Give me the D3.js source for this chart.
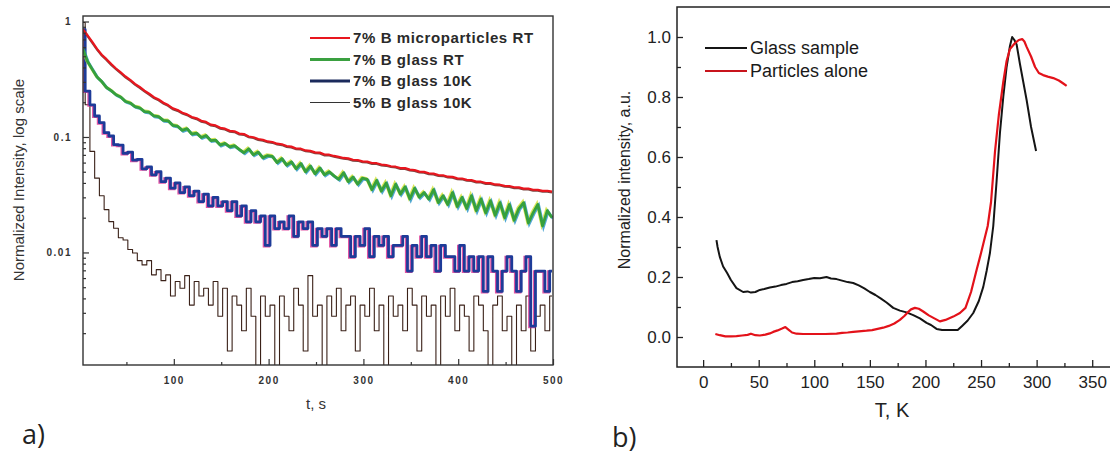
<!DOCTYPE html>
<html>
<head>
<meta charset="utf-8">
<script src="https://cdnjs.cloudflare.com/ajax/libs/d3/7.8.5/d3.min.js"></script>
<style>
  body { margin: 0; background: #fff; }
  svg text { font-family: "Liberation Sans", Arial, sans-serif; }
</style>
</head>
<body>
<div id="chart"></div>
<script>
// ---------- panel a) : decay curves, t grid every 5 s ----------
const decayTimes = d3.range(4, 500, 5);   // 4, 9, ..., 499 s

const microRT = [
  0.86, 0.76, 0.665, 0.58, 0.515, 0.472, 0.428, 0.392, 0.362, 0.334,
  0.312, 0.288, 0.271, 0.252, 0.237, 0.221, 0.211, 0.198, 0.189, 0.177,
  0.171, 0.162, 0.157, 0.149, 0.145, 0.138, 0.135, 0.128, 0.126, 0.120,
  0.118, 0.113, 0.112, 0.107, 0.106, 0.101, 0.0995, 0.096, 0.0945, 0.0915,
  0.0905, 0.0875, 0.0865, 0.0835, 0.0825, 0.0795, 0.0792, 0.0765, 0.0758, 0.0735,
  0.0732, 0.0705, 0.0702, 0.0685, 0.0672, 0.0658, 0.0652, 0.0635, 0.0632, 0.0615,
  0.0612, 0.0595, 0.0593, 0.0577, 0.0572, 0.0558, 0.0553, 0.0538, 0.0537, 0.0522,
  0.0517, 0.0501, 0.0499, 0.0485, 0.0482, 0.0468, 0.0466, 0.0453, 0.0452, 0.0438,
  0.0437, 0.0425, 0.0423, 0.0411, 0.0410, 0.0399, 0.0398, 0.0388, 0.0386, 0.0377,
  0.0376, 0.0367, 0.0366, 0.0357, 0.0357, 0.0349, 0.0348, 0.0341, 0.0342, 0.0336
];

const glassRT = [
  0.58, 0.45, 0.385, 0.33, 0.302, 0.268, 0.252, 0.232, 0.222, 0.203,
  0.197, 0.183, 0.179, 0.166, 0.164, 0.152, 0.150, 0.139, 0.138, 0.126,
  0.124, 0.114, 0.118, 0.106, 0.108, 0.099, 0.103, 0.093, 0.094, 0.085,
  0.088, 0.082, 0.084, 0.078, 0.073, 0.079, 0.070, 0.074, 0.066, 0.069,
  0.068, 0.060, 0.065, 0.057, 0.061, 0.053, 0.059, 0.050, 0.056, 0.048,
  0.054, 0.047, 0.050, 0.046, 0.043, 0.049, 0.041, 0.045, 0.039, 0.044,
  0.043, 0.035, 0.042, 0.034, 0.040, 0.031, 0.039, 0.032, 0.037, 0.029,
  0.036, 0.030, 0.033, 0.029, 0.035, 0.027, 0.031, 0.026, 0.033, 0.025,
  0.030, 0.024, 0.031, 0.023, 0.029, 0.022, 0.028, 0.021, 0.027, 0.020,
  0.026, 0.019, 0.024, 0.027, 0.018, 0.022, 0.026, 0.017, 0.023, 0.020
];

const glass10K = [
  0.85, 0.25, 0.19, 0.152, 0.133, 0.109, 0.102, 0.086, 0.085, 0.072,
  0.074, 0.063, 0.064, 0.053, 0.055, 0.047, 0.050, 0.041, 0.044, 0.036,
  0.040, 0.033, 0.037, 0.031, 0.034, 0.0276, 0.032, 0.0253, 0.030, 0.0253,
  0.0276, 0.023, 0.0276, 0.0207, 0.0253, 0.0184, 0.023, 0.0184, 0.0207, 0.0115,
  0.0207, 0.0161, 0.0184, 0.0161, 0.0207, 0.0138, 0.0184, 0.0161, 0.0184, 0.0115,
  0.0161, 0.0138, 0.0161, 0.0115, 0.0161, 0.0138, 0.0138, 0.0092, 0.0138, 0.0115,
  0.0161, 0.0092, 0.0138, 0.0115, 0.0138, 0.0092, 0.0115, 0.0115, 0.0138, 0.0069,
  0.0115, 0.0092, 0.0138, 0.0092, 0.0115, 0.0069, 0.0115, 0.0092, 0.0092, 0.0069,
  0.0115, 0.0069, 0.0092, 0.0069, 0.0092, 0.0046, 0.0092, 0.0069, 0.0046, 0.0069,
  0.0092, 0.0069, 0.0046, 0.0069, 0.0092, 0.0023, 0.0069, 0.0069, 0.0046, 0.0069
];

const glass5pct10K = [
  0.98, 0.19, 0.075, 0.044, 0.031, 0.0235, 0.0185, 0.0162, 0.0134, 0.0128,
  0.0106, 0.0099, 0.0085, 0.0078, 0.0085, 0.0064, 0.0071, 0.0057, 0.0064, 0.0042,
  0.0056, 0.0049, 0.0063, 0.0035, 0.0056, 0.0042, 0.0049, 0.0035, 0.0056, 0.0028,
  0.0049, 0.0014, 0.0042, 0.0035, 0.0021, 0.0049, 0.0028, 0.0007, 0.0042, 0.0028,
  0.0035, 0, 0.0042, 0.0028, 0.0021, 0.0049, 0.0035, 0.0014, 0.0063, 0.0028,
  0.0035, 0.0007, 0.0042, 0.0028, 0.0049, 0.0021, 0.0035, 0.0042, 0.0014, 0.0035,
  0.0028, 0.0049, 0.0021, 0.0035, 0, 0.0042, 0.0028, 0.0035, 0.0021, 0.0049,
  0.0035, 0.0014, 0.0042, 0.0028, 0.0035, 0.0007, 0.0042, 0.0028, 0.0049, 0.0021,
  0.0035, 0.0028, 0.0014, 0.0042, 0.0035, 0.0021, 0, 0.0035, 0.0042, 0.0021,
  0.0028, 0.0007, 0.0035, 0.0021, 0.0042, 0.0014, 0.0028, 0.0035, 0.0021, 0.0042
];

const decayLabels = ['7% B microparticles RT', '7% B glass RT', '7% B glass 10K', '5% B glass 10K'];
const decayYTicks = [1, 0.1, 0.01];
const decayXTicks = [100, 200, 300, 400, 500];
const decayXMinor = [50, 150, 250, 350, 450];

// ---------- panel b) : intensity vs temperature ----------
const tempGlass = [12, 13, 15, 18, 21.6, 25, 30, 36, 40, 43, 47, 51, 55, 60, 65, 70, 75, 80, 85, 90,
  95, 100, 105, 111, 115, 120, 125, 130, 135, 140, 145, 150, 155, 160, 165, 171, 177, 183, 189, 195,
  201, 205, 210, 215, 220, 229, 233, 238, 243, 248, 252, 255, 258, 261, 264, 267, 270, 273, 276, 278,
  280, 282, 285, 288, 291, 295, 299.5];
const glassSample = [0.323, 0.30, 0.267, 0.235, 0.213, 0.19, 0.163, 0.15, 0.152, 0.148, 0.15, 0.157, 0.16, 0.165, 0.168, 0.173, 0.177, 0.183, 0.186, 0.19,
  0.193, 0.197, 0.196, 0.2, 0.195, 0.193, 0.188, 0.183, 0.18, 0.172, 0.162, 0.15, 0.14, 0.128, 0.115, 0.097, 0.088, 0.082, 0.073, 0.062,
  0.047, 0.04, 0.027, 0.023, 0.023, 0.023, 0.037, 0.055, 0.08, 0.12, 0.167, 0.22, 0.28, 0.37, 0.52, 0.68, 0.8, 0.9, 0.97, 1.0,
  0.99, 0.975, 0.91, 0.85, 0.79, 0.7, 0.62];

const tempParticles = [11, 15, 20, 25, 30, 35, 40, 43, 47, 51, 56, 60, 63, 67, 71, 74, 77, 80, 84, 90,
  100, 110, 120, 125, 130, 135, 140, 147, 152, 157, 162, 167, 172, 177, 181, 184, 187, 190.5, 194, 198,
  203, 208, 213, 218, 225, 231, 236, 241, 246, 250, 253.6, 256, 259, 262.6, 266, 270, 273, 276, 280.6, 284,
  287, 289, 291, 295, 298.6, 302, 305.8, 310, 315, 320, 324, 327];
const particlesAlone = [0.01, 0.006, 0.002, 0.002, 0.003, 0.005, 0.007, 0.011, 0.006, 0.005, 0.008, 0.012, 0.017, 0.022, 0.028, 0.033, 0.024, 0.015, 0.011, 0.01,
  0.01, 0.01, 0.011, 0.014, 0.015, 0.017, 0.019, 0.021, 0.023, 0.027, 0.031, 0.037, 0.045, 0.057, 0.07, 0.082, 0.092, 0.097, 0.094, 0.085,
  0.072, 0.062, 0.052, 0.057, 0.068, 0.08, 0.097, 0.15, 0.223, 0.28, 0.334, 0.37, 0.45, 0.62, 0.74, 0.85, 0.92, 0.96, 0.98, 0.99,
  0.993, 0.985, 0.967, 0.935, 0.9, 0.88, 0.873, 0.868, 0.863, 0.855, 0.845, 0.837];

const tempLabels = ['Glass sample', 'Particles alone'];
const tempXTicks = [0, 50, 100, 150, 200, 250, 300, 350];
const tempXMinor = [25, 75, 125, 175, 225, 275, 325];
const tempYTicks = [0, 0.2, 0.4, 0.6, 0.8, 1.0];
const tempYMinor = [0.1, 0.3, 0.5, 0.7, 0.9];

const svg = d3.select('#chart').append('svg')
    .attr('width', 1110)
    .attr('height', 454);

// ================= panel a =================
const boxA = {left: 83, right: 553, top: 16, bottom: 365};
const xA = d3.scaleLinear().domain([4.2, 500]).range([boxA.left, boxA.right]);
const yMinA = 0.00106;
const yA = d3.scaleLog().domain([yMinA, 1.116]).range([boxA.bottom, boxA.top]);

const panelA = svg.append('g');
panelA.append('clipPath').attr('id', 'clipA').append('rect')
    .attr('x', boxA.left).attr('y', boxA.top)
    .attr('width', boxA.right - boxA.left).attr('height', boxA.bottom - boxA.top);

// scanned colour fringes are drawn as offset copies under each line
const decaySeries = [
  {values: glass5pct10K, color: '#3a2118', width: 1.1, curve: d3.curveStep, fringe: []},
  {values: glass10K, color: '#1d3b98', width: 2.8, curve: d3.curveStep,
     fringe: [{dx: -1.2, dy: 0.6, color: '#d8288c'}]},
  {values: glassRT, color: '#36a03c', width: 2.8, curve: d3.curveLinear,
     fringe: [{dx: -0.9, dy: -0.9, color: '#cfe030'}, {dx: 0.9, dy: 0.9, color: '#2592c8'}]},
  {values: microRT, color: '#e8161e', width: 2.2, curve: d3.curveLinear,
     fringe: [{dx: 0, dy: 0.8, color: '#5a1a14'}]}
];

const linesA = panelA.append('g').attr('clip-path', 'url(#clipA)');
decaySeries.forEach(s => {
  const line = d3.line()
      .x((d, i) => xA(decayTimes[i]))
      .y(d => yA(Math.max(d, yMinA * 0.8)))
      .curve(s.curve);
  s.fringe.forEach(f => {
    linesA.append('path')
        .attr('d', line(s.values))
        .attr('transform', `translate(${f.dx},${f.dy})`)
        .attr('fill', 'none').attr('stroke', f.color)
        .attr('stroke-width', s.width).attr('opacity', 0.8);
  });
  linesA.append('path')
      .attr('d', line(s.values))
      .attr('fill', 'none').attr('stroke', s.color)
      .attr('stroke-width', s.width).attr('stroke-linejoin', 'round');
});

// axes (ticks inside)
const minorA = yA.ticks().filter(v => Math.abs(Math.log10(v) - Math.round(Math.log10(v))) > 1e-6);
panelA.append('g').attr('transform', `translate(${boxA.left},0)`)
    .call(d3.axisLeft(yA).tickValues(minorA).tickSize(-3).tickFormat(''))
    .call(g => g.select('.domain').remove());
panelA.append('g').attr('transform', `translate(${boxA.left},0)`)
    .call(d3.axisLeft(yA).tickValues(decayYTicks).tickSize(-6).tickPadding(11).tickFormat(d => String(d)))
    .call(g => g.select('.domain').remove());
panelA.append('g').attr('transform', `translate(0,${boxA.bottom})`)
    .call(d3.axisBottom(xA).tickValues(decayXMinor).tickSize(-3).tickFormat(''))
    .call(g => g.select('.domain').remove());
panelA.append('g').attr('transform', `translate(0,${boxA.bottom})`)
    .call(d3.axisBottom(xA).tickValues(decayXTicks).tickSize(-6).tickPadding(12).tickFormat(d3.format('d')))
    .call(g => g.select('.domain').remove());
panelA.selectAll('.tick line').attr('stroke', '#333').attr('stroke-width', 1.2);
panelA.selectAll('.tick text')
    .attr('fill', '#333').style('font-size', '10px').style('font-weight', 'bold')
    .style('letter-spacing', '1.5px');

panelA.append('rect')
    .attr('x', boxA.left).attr('y', boxA.top)
    .attr('width', boxA.right - boxA.left).attr('height', boxA.bottom - boxA.top)
    .attr('fill', 'none').attr('stroke', '#333').attr('stroke-width', 1.4);

// legend
const legendA = panelA.append('g');
const legendStyleA = [
  {color: '#e8161e', width: 2},
  {color: '#3aa040', width: 3},
  {color: '#1b2a5c', width: 3},
  {color: '#333', width: 1}
];
decayLabels.forEach((label, i) => {
  const y = 38 + i * 21.5;
  legendA.append('line')
      .attr('x1', 310).attr('x2', 350).attr('y1', y).attr('y2', y)
      .attr('stroke', legendStyleA[i].color).attr('stroke-width', legendStyleA[i].width);
  legendA.append('text')
      .attr('x', 353).attr('y', y).attr('dy', '0.36em')
      .style('font-size', '15px').style('font-weight', 'bold')
      .style('letter-spacing', '0.6px').attr('fill', '#2a2a2a')
      .text(label);
});

panelA.append('text')
    .attr('transform', 'translate(24,180) rotate(-90)')
    .attr('text-anchor', 'middle')
    .style('font-size', '15px').attr('fill', '#333')
    .text('Normalized Intensity, log scale');

panelA.append('text')
    .attr('x', 316).attr('y', 409)
    .attr('text-anchor', 'middle')
    .style('font-size', '15px').attr('fill', '#333')
    .text('t, s');

svg.append('text')
    .attr('x', 22).attr('y', 444)
    .style('font-family', '"Open Sans", "Noto Sans", sans-serif')
    .style('font-size', '27px').attr('fill', '#222')
    .text('a)');

// ================= panel b =================
const boxB = {left: 677, right: 1120, top: 7, bottom: 367};
const xB = d3.scaleLinear().domain([-23.5, 375]).range([boxB.left, boxB.right]);
const yB = d3.scaleLinear().domain([-0.1, 1.1]).range([boxB.bottom, boxB.top]);

const panelB = svg.append('g');

panelB.append('g').attr('transform', `translate(${boxB.left},0)`)
    .call(d3.axisLeft(yB).tickValues(tempYMinor).tickSize(-4).tickFormat(''))
    .call(g => g.select('.domain').remove());
panelB.append('g').attr('transform', `translate(${boxB.left},0)`)
    .call(d3.axisLeft(yB).tickValues(tempYTicks).tickSize(-6).tickPadding(6).tickFormat(d3.format('.1f')))
    .call(g => g.select('.domain').remove());
panelB.append('g').attr('transform', `translate(0,${boxB.bottom})`)
    .call(d3.axisBottom(xB).tickValues(tempXMinor).tickSize(-4).tickFormat(''))
    .call(g => g.select('.domain').remove());
panelB.append('g').attr('transform', `translate(0,${boxB.bottom})`)
    .call(d3.axisBottom(xB).tickValues(tempXTicks).tickSize(-7).tickPadding(9).tickFormat(d3.format('d')))
    .call(g => g.select('.domain').remove());
panelB.selectAll('.tick line').attr('stroke', '#222').attr('stroke-width', 1.3);
panelB.selectAll('.tick text')
    .attr('fill', '#222').style('font-size', '17px');

panelB.append('rect')
    .attr('x', boxB.left).attr('y', boxB.top)
    .attr('width', boxB.right - boxB.left).attr('height', boxB.bottom - boxB.top)
    .attr('fill', 'none').attr('stroke', '#222').attr('stroke-width', 1.5);

const lineGlass = d3.line().x((d, i) => xB(tempGlass[i])).y(d => yB(d));
const lineParticles = d3.line().x((d, i) => xB(tempParticles[i])).y(d => yB(d));

panelB.append('path')
    .attr('d', lineGlass(glassSample))
    .attr('fill', 'none').attr('stroke', '#151515').attr('stroke-width', 2)
    .attr('stroke-linejoin', 'round');
panelB.append('path')
    .attr('d', lineParticles(particlesAlone))
    .attr('fill', 'none').attr('stroke', '#e3121a').attr('stroke-width', 2.2)
    .attr('stroke-linejoin', 'round');

const legendStyleB = ['#151515', '#c8141c'];
tempLabels.forEach((label, i) => {
  const y = 48 + i * 23;
  panelB.append('line')
      .attr('x1', 705).attr('x2', 747).attr('y1', y).attr('y2', y)
      .attr('stroke', legendStyleB[i]).attr('stroke-width', 2);
  panelB.append('text')
      .attr('x', 750).attr('y', y).attr('dy', '0.35em')
      .style('font-size', '18px').attr('fill', '#1a1a1a')
      .text(label);
});

panelB.append('text')
    .attr('transform', 'translate(630,180) rotate(-90)')
    .attr('text-anchor', 'middle')
    .style('font-size', '16px').attr('fill', '#222')
    .text('Normalized intensity, a.u.');

panelB.append('text')
    .attr('x', 892).attr('y', 417)
    .attr('text-anchor', 'middle')
    .style('font-size', '20px').attr('fill', '#222')
    .text('T, K');

svg.append('text')
    .attr('x', 612).attr('y', 447)
    .style('font-family', '"Open Sans", "Noto Sans", sans-serif')
    .style('font-size', '27px').attr('fill', '#222')
    .text('b)');
</script>
</body>
</html>
